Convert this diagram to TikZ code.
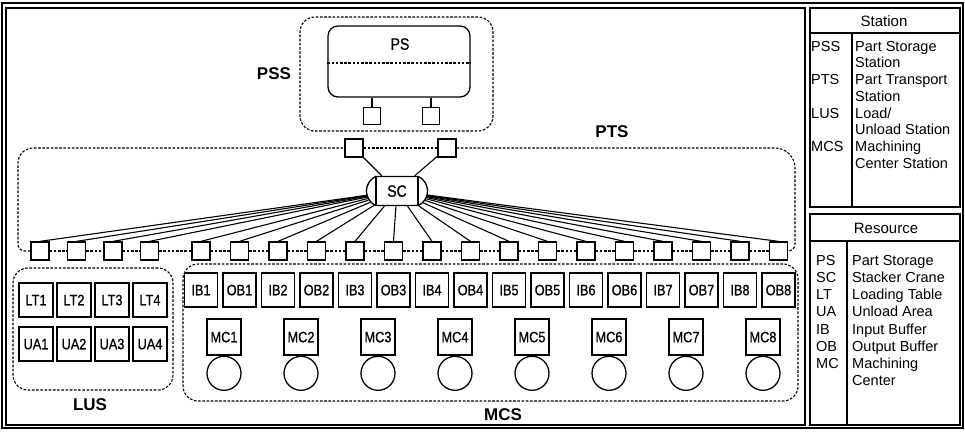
\documentclass[tikz,border=0pt]{standalone}
\usepackage{fontspec}
\setmainfont{Liberation Sans}
\newfontfamily\narrowfont[FakeStretch=0.85, FakeBold=0.8]{Liberation Sans}
\usetikzlibrary{positioning, shapes.misc}

\newcommand\boxfont{\narrowfont\fontsize{15}{17}\selectfont}
\newcommand\scfont{\narrowfont\fontsize{16.5}{18}\selectfont}
\newcommand\zonefont{\bfseries\fontsize{17}{20}\selectfont}
\newcommand\legfont{\fontsize{14.5}{16}\selectfont}
\newcommand\headfont{\fontsize{15}{17}\selectfont}

\begin{document}
\begin{tikzpicture}[x=1pt, y=-1pt,
    frame/.style={line width=1.3pt},
    unit/.style={draw, line width=1.3pt, fill=white, minimum width=33pt, minimum height=34pt, inner sep=0pt, font=\boxfont, text height=10.5pt, text depth=0pt},
    port/.style={draw, line width=1.3pt, fill=white, minimum size=18pt, inner sep=0pt},
    zone/.style={draw, line width=1.1pt, dash pattern=on 2.6pt off 1.6pt, rounded corners=15pt},
    tie/.style={line width=1.1pt, dash pattern=on 2.6pt off 1.6pt},
    link/.style={line width=1.1pt},
    zlabel/.style={font=\zonefont, inner sep=0pt},
    leg/.style={font=\legfont, anchor=west, inner sep=0pt, text height=10.4pt, text depth=0pt}
]
\useasboundingbox (0,0) rectangle (965,431);

% frames
\draw[frame] (2,3) rectangle (963,428);
\draw[frame] (6,8) rectangle (805,425);

% part storage station
\node[zone, minimum width=193pt, minimum height=114pt] (pss) at (396.5,74) {};
\node[draw, line width=1.3pt, rounded corners=10pt, minimum width=142pt, minimum height=71pt] (ps) at (399,61.5) {};
\node[font=\scfont, text height=11.5pt, text depth=0pt] (pslabel) at (400,44) {PS};
\draw[tie] (ps.west |- 0,63) -- (ps.east |- 0,63);
\node[port, minimum size=17pt] (pss1) at (372,116) {};
\node[port, minimum size=17pt] (pss2) at (431,116) {};
\draw[link] (pss1.north) -- (pss1.north |- ps.south);
\draw[link] (pss2.north) -- (pss2.north |- ps.south);
\node[zlabel] (psslabel) at (274,74) {PSS};

% part transport station
\node[port] (up1) at (354,148) {};
\node[port] (up2) at (447,148) {};
\foreach \i in {1,...,4}
    \node[port] (lp\i) at ({40+36.5*(\i-1)},251) {};
\foreach \i in {1,...,16}
    \node[port] (mp\i) at ({201+38.5*(\i-1)},251) {};
\draw[tie] (lp1.west) [rounded corners=7pt] -| (18,200) [rounded corners=15pt] |- (up1.west);
\draw[tie] (up1) -- (up2);
\draw[tie] (up2.east) [rounded corners=20pt] -| (795,200) [rounded corners=7pt] |- (mp16.east);
\foreach \i [count=\j from 2] in {1,2,3}
    \draw[tie] (lp\i) -- (lp\j);
\draw[tie] (lp4) -- (mp1);
\foreach \i [count=\j from 2] in {1,...,15}
    \draw[tie] (mp\i) -- (mp\j);
\node[zlabel] (ptslabel) at (612,132) {PTS};

\node[draw, line width=1.3pt, fill=white, rounded rectangle, rounded rectangle arc length=130,
      minimum width=61pt, minimum height=29pt, inner sep=0pt, font=\scfont, text height=11.5pt, text depth=0pt] (sc) at (397,191) {SC};
\draw[line width=1.3pt] ([xshift=-21pt]sc.north) -- ([xshift=-21pt]sc.south);
\draw[line width=1.3pt] ([xshift=21pt]sc.north) -- ([xshift=21pt]sc.south);
\draw[link] (up1) -- (sc);
\draw[link] (up2) -- (sc);
\foreach \i in {1,...,4}
    \draw[link] (sc) -- (lp\i.north);
\foreach \i in {1,...,16}
    \draw[link] (sc) -- (mp\i.north);

% load/unload station
\node[zone, minimum width=160pt, minimum height=122pt] (lus) at (93,329) {};
\foreach \i in {1,...,4} {
    \node[unit, minimum width=34pt] (lt\i) at ({36+38*(\i-1)},300) {LT\i};
    \node[unit, minimum width=34pt] (ua\i) at ({36+38*(\i-1)},344) {UA\i};
}
\node[zlabel] (luslabel) at (90,405) {LUS};

% machining center station
\node[zone, minimum width=615pt, minimum height=137pt] (mcs) at (490.5,332.5) {};
\foreach \k in {1,...,8} {
    \node[unit] (ib\k) at ({201+77*(\k-1)},290) {IB\k};
    \node[unit] (ob\k) at ({239.5+77*(\k-1)},290) {OB\k};
    \node[unit, minimum width=34pt, minimum height=36pt] (mc\k) at ({224+77*(\k-1)},337) {MC\k};
    \node[draw, circle, line width=1.3pt, minimum size=34pt, inner sep=0pt, below=0pt of mc\k] (mt\k) {};
}
\node[zlabel] (mcslabel) at (503,415) {MCS};

% legend: stations
\draw[frame] (810,8) rectangle (960,207);
\draw[frame] (810,33) -- (960,33) (852,33) -- (852,207);
\node[font=\headfont] (stnhead) at (884,21) {Station};
\foreach \t [count=\i] in {PSS,PTS,LUS,MCS}
    \node[leg] (stnab\i) at (811,{46+33.4*(\i-1)}) {\t};
\foreach \t [count=\i] in {Part Storage,Station,Part Transport,Station,{Load/},Unload Station,Machining,Center Station}
    \node[leg] (stntx\i) at (855,{46+16.7*(\i-1)}) {\t};

% legend: resources
\draw[frame] (810,214) rectangle (960,425);
\draw[frame] (810,241) -- (960,241) (847,241) -- (847,425);
\node[font=\headfont] (reshead) at (886,228) {Resource};
\foreach \t [count=\i] in {PS,SC,LT,UA,IB,OB,MC}
    \node[leg] (resab\i) at (816,{260+17.2*(\i-1)}) {\t};
\foreach \t [count=\i] in {Part Storage,Stacker Crane,Loading Table,Unload Area,Input Buffer,Output Buffer,Machining,Center}
    \node[leg] (restx\i) at (852,{260+17.2*(\i-1)}) {\t};
\end{tikzpicture}
\end{document}
